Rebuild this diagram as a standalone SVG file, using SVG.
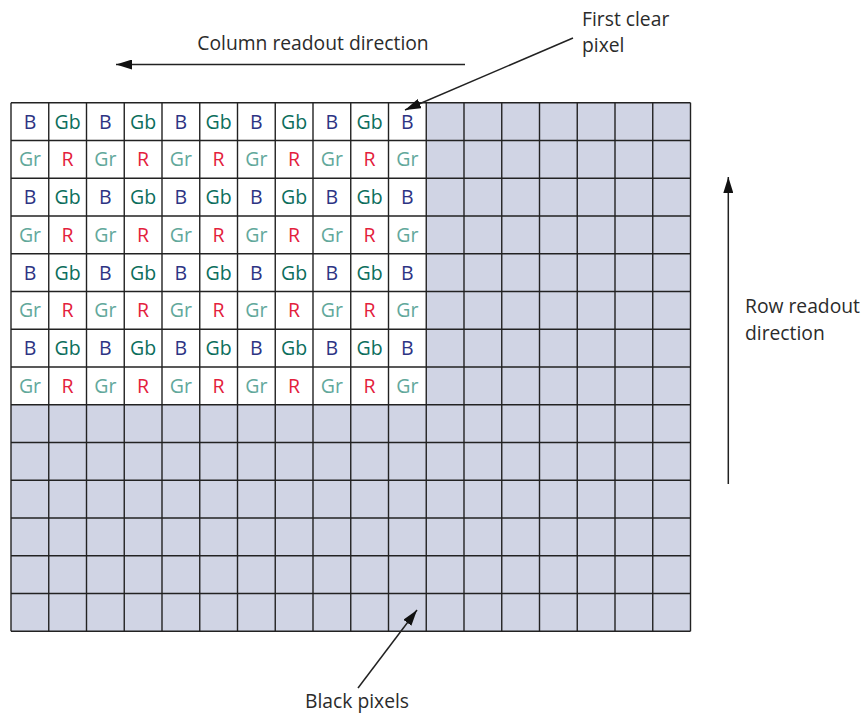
<svg xmlns="http://www.w3.org/2000/svg" width="867" height="715" viewBox="0 0 867 715">
<defs>
<style>
.t{font-family:"Open Sans","Noto Sans","DejaVu Sans",sans-serif;font-size:19.3px;fill:#2b2b2b}
.c{font-family:"Open Sans","Noto Sans","DejaVu Sans",sans-serif;font-size:19.5px;text-anchor:middle}
.B{fill:#2d3383}.Gb{fill:#0c6e5c}.Gr{fill:#62a89b}.R{fill:#e3203c}
.ln{stroke:#222;stroke-width:1.5;fill:none}
.g{stroke:#222;stroke-width:1.4}
</style>
<marker id="ahb" markerWidth="16" markerHeight="10" refX="16" refY="5" orient="auto" markerUnits="userSpaceOnUse" viewBox="0 0 16 10">
<path d="M0,0 L16,5 L0,10 z" fill="#111"/>
</marker>
</defs>
<g id="grid">
<rect x="11" y="102.7" width="679.5" height="528.5" fill="#d0d4e4"/>
<rect x="11" y="102.7" width="415.3" height="302" fill="#ffffff"/>
<g class="g">
<line x1="11" y1="102.7" x2="690.5" y2="102.7"/>
<line x1="11" y1="140.45" x2="690.5" y2="140.45"/>
<line x1="11" y1="178.2" x2="690.5" y2="178.2"/>
<line x1="11" y1="215.95" x2="690.5" y2="215.95"/>
<line x1="11" y1="253.7" x2="690.5" y2="253.7"/>
<line x1="11" y1="291.45" x2="690.5" y2="291.45"/>
<line x1="11" y1="329.2" x2="690.5" y2="329.2"/>
<line x1="11" y1="366.95" x2="690.5" y2="366.95"/>
<line x1="11" y1="404.7" x2="690.5" y2="404.7"/>
<line x1="11" y1="442.45" x2="690.5" y2="442.45"/>
<line x1="11" y1="480.2" x2="690.5" y2="480.2"/>
<line x1="11" y1="517.95" x2="690.5" y2="517.95"/>
<line x1="11" y1="555.7" x2="690.5" y2="555.7"/>
<line x1="11" y1="593.45" x2="690.5" y2="593.45"/>
<line x1="11" y1="631.2" x2="690.5" y2="631.2"/>
<line x1="11" y1="102.7" x2="11" y2="631.2"/>
<line x1="48.75" y1="102.7" x2="48.75" y2="631.2"/>
<line x1="86.5" y1="102.7" x2="86.5" y2="631.2"/>
<line x1="124.25" y1="102.7" x2="124.25" y2="631.2"/>
<line x1="162" y1="102.7" x2="162" y2="631.2"/>
<line x1="199.75" y1="102.7" x2="199.75" y2="631.2"/>
<line x1="237.5" y1="102.7" x2="237.5" y2="631.2"/>
<line x1="275.25" y1="102.7" x2="275.25" y2="631.2"/>
<line x1="313" y1="102.7" x2="313" y2="631.2"/>
<line x1="350.75" y1="102.7" x2="350.75" y2="631.2"/>
<line x1="388.5" y1="102.7" x2="388.5" y2="631.2"/>
<line x1="426.25" y1="102.7" x2="426.25" y2="631.2"/>
<line x1="464" y1="102.7" x2="464" y2="631.2"/>
<line x1="501.75" y1="102.7" x2="501.75" y2="631.2"/>
<line x1="539.5" y1="102.7" x2="539.5" y2="631.2"/>
<line x1="577.25" y1="102.7" x2="577.25" y2="631.2"/>
<line x1="615" y1="102.7" x2="615" y2="631.2"/>
<line x1="652.75" y1="102.7" x2="652.75" y2="631.2"/>
<line x1="690.5" y1="102.7" x2="690.5" y2="631.2"/>
</g>
</g>
<g id="labels" class="c">
<g id="rowBG1">
<text x="30" y="128.5" class="B">B</text><text x="67.6" y="128.5" class="Gb">Gb</text><text x="105.4" y="128.5" class="B">B</text><text x="143.1" y="128.5" class="Gb">Gb</text><text x="180.9" y="128.5" class="B">B</text><text x="218.6" y="128.5" class="Gb">Gb</text><text x="256.4" y="128.5" class="B">B</text><text x="294.1" y="128.5" class="Gb">Gb</text><text x="331.9" y="128.5" class="B">B</text><text x="369.6" y="128.5" class="Gb">Gb</text><text x="407.4" y="128.5" class="B">B</text>
</g>
<g id="rowGR1">
<text x="30" y="166.2" class="Gr">Gr</text><text x="67.6" y="166.2" class="R">R</text><text x="105.4" y="166.2" class="Gr">Gr</text><text x="143.1" y="166.2" class="R">R</text><text x="180.9" y="166.2" class="Gr">Gr</text><text x="218.6" y="166.2" class="R">R</text><text x="256.4" y="166.2" class="Gr">Gr</text><text x="294.1" y="166.2" class="R">R</text><text x="331.9" y="166.2" class="Gr">Gr</text><text x="369.6" y="166.2" class="R">R</text><text x="407.4" y="166.2" class="Gr">Gr</text>
</g>
<g id="rowBG2">
<text x="30" y="204" class="B">B</text><text x="67.6" y="204" class="Gb">Gb</text><text x="105.4" y="204" class="B">B</text><text x="143.1" y="204" class="Gb">Gb</text><text x="180.9" y="204" class="B">B</text><text x="218.6" y="204" class="Gb">Gb</text><text x="256.4" y="204" class="B">B</text><text x="294.1" y="204" class="Gb">Gb</text><text x="331.9" y="204" class="B">B</text><text x="369.6" y="204" class="Gb">Gb</text><text x="407.4" y="204" class="B">B</text>
</g>
<g id="rowGR2">
<text x="30" y="241.7" class="Gr">Gr</text><text x="67.6" y="241.7" class="R">R</text><text x="105.4" y="241.7" class="Gr">Gr</text><text x="143.1" y="241.7" class="R">R</text><text x="180.9" y="241.7" class="Gr">Gr</text><text x="218.6" y="241.7" class="R">R</text><text x="256.4" y="241.7" class="Gr">Gr</text><text x="294.1" y="241.7" class="R">R</text><text x="331.9" y="241.7" class="Gr">Gr</text><text x="369.6" y="241.7" class="R">R</text><text x="407.4" y="241.7" class="Gr">Gr</text>
</g>
<g id="rowBG3">
<text x="30" y="279.5" class="B">B</text><text x="67.6" y="279.5" class="Gb">Gb</text><text x="105.4" y="279.5" class="B">B</text><text x="143.1" y="279.5" class="Gb">Gb</text><text x="180.9" y="279.5" class="B">B</text><text x="218.6" y="279.5" class="Gb">Gb</text><text x="256.4" y="279.5" class="B">B</text><text x="294.1" y="279.5" class="Gb">Gb</text><text x="331.9" y="279.5" class="B">B</text><text x="369.6" y="279.5" class="Gb">Gb</text><text x="407.4" y="279.5" class="B">B</text>
</g>
<g id="rowGR3">
<text x="30" y="317.2" class="Gr">Gr</text><text x="67.6" y="317.2" class="R">R</text><text x="105.4" y="317.2" class="Gr">Gr</text><text x="143.1" y="317.2" class="R">R</text><text x="180.9" y="317.2" class="Gr">Gr</text><text x="218.6" y="317.2" class="R">R</text><text x="256.4" y="317.2" class="Gr">Gr</text><text x="294.1" y="317.2" class="R">R</text><text x="331.9" y="317.2" class="Gr">Gr</text><text x="369.6" y="317.2" class="R">R</text><text x="407.4" y="317.2" class="Gr">Gr</text>
</g>
<g id="rowBG4">
<text x="30" y="355" class="B">B</text><text x="67.6" y="355" class="Gb">Gb</text><text x="105.4" y="355" class="B">B</text><text x="143.1" y="355" class="Gb">Gb</text><text x="180.9" y="355" class="B">B</text><text x="218.6" y="355" class="Gb">Gb</text><text x="256.4" y="355" class="B">B</text><text x="294.1" y="355" class="Gb">Gb</text><text x="331.9" y="355" class="B">B</text><text x="369.6" y="355" class="Gb">Gb</text><text x="407.4" y="355" class="B">B</text>
</g>
<g id="rowGR4">
<text x="30" y="392.7" class="Gr">Gr</text><text x="67.6" y="392.7" class="R">R</text><text x="105.4" y="392.7" class="Gr">Gr</text><text x="143.1" y="392.7" class="R">R</text><text x="180.9" y="392.7" class="Gr">Gr</text><text x="218.6" y="392.7" class="R">R</text><text x="256.4" y="392.7" class="Gr">Gr</text><text x="294.1" y="392.7" class="R">R</text><text x="331.9" y="392.7" class="Gr">Gr</text><text x="369.6" y="392.7" class="R">R</text><text x="407.4" y="392.7" class="Gr">Gr</text>
</g>
</g>
<g id="connectors">
<line class="ln" x1="465" y1="64.5" x2="116" y2="64.5" marker-end="url(#ahb)"/>
<line class="ln" x1="728.3" y1="484" x2="728.3" y2="177" marker-end="url(#ahb)"/>
<line class="ln" x1="573" y1="38" x2="405" y2="110" marker-end="url(#ahb)"/>
<line class="ln" x1="358" y1="688" x2="417" y2="610" marker-end="url(#ahb)"/>
</g>
<g id="col-label"><text class="t" x="313" y="50" text-anchor="middle">Column readout direction</text></g>
<g id="first-label"><text class="t" x="582" y="26">First clear</text><text class="t" x="582" y="52">pixel</text></g>
<g id="row-label"><text class="t" x="745" y="313">Row readout</text><text class="t" x="745" y="340">direction</text></g>
<g id="black-label"><text class="t" x="305" y="708">Black pixels</text></g>
</svg>
